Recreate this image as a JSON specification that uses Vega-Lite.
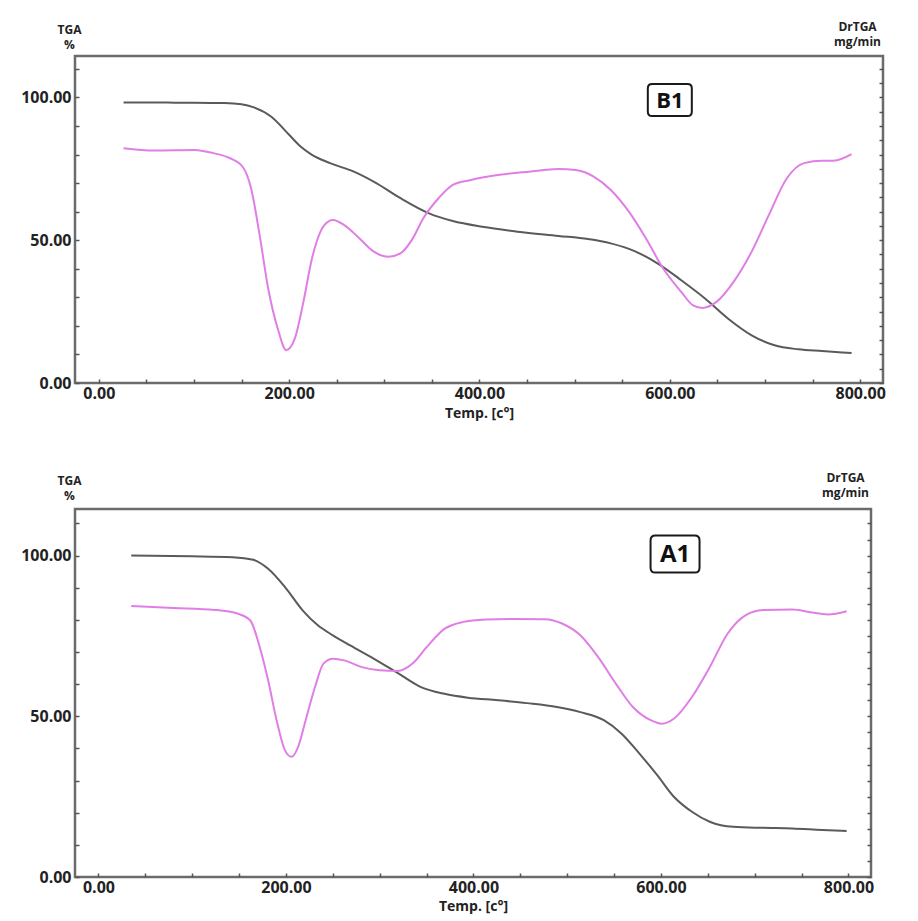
{
  "$schema": "https://vega.github.io/schema/vega-lite/v6.json",
  "background": "white",
  "padding": {"left": 19, "top": 18, "right": 5, "bottom": 0},
  "spacing": 47,
  "config": {
    "font": "Open Sans",
    "view": {"stroke": "#6b6b6b", "strokeWidth": 2.5},
    "axis": {
      "grid": false, "domain": false,
      "labelFont": "Open Sans", "labelFontWeight": "bold", "labelFontSize": 16, "labelColor": "#222",
      "titleFont": "Open Sans", "titleFontWeight": "bold", "titleColor": "#222",
      "tickColor": "#555", "tickWidth": 1.5, "labelOverlap": false, "labelFlush": false
    }
  },
  "datasets": {
    "b1_tga": [
      {"temp": 26, "value": 98.2}, {"temp": 60, "value": 98.2}, {"temp": 100, "value": 98.1}, {"temp": 132, "value": 98.0},
      {"temp": 150, "value": 97.6}, {"temp": 163, "value": 96.5}, {"temp": 181, "value": 93.3}, {"temp": 200, "value": 86.9},
      {"temp": 212, "value": 82.8}, {"temp": 224, "value": 79.9}, {"temp": 243, "value": 77.0}, {"temp": 268, "value": 74.0},
      {"temp": 292, "value": 69.9}, {"temp": 317, "value": 64.7}, {"temp": 347, "value": 59.4}, {"temp": 372, "value": 56.7},
      {"temp": 403, "value": 54.7}, {"temp": 440, "value": 53.0}, {"temp": 483, "value": 51.5}, {"temp": 514, "value": 50.4},
      {"temp": 538, "value": 48.9}, {"temp": 563, "value": 46.2}, {"temp": 587, "value": 41.9}, {"temp": 612, "value": 36.0},
      {"temp": 637, "value": 29.6}, {"temp": 661, "value": 22.6}, {"temp": 686, "value": 16.7}, {"temp": 710, "value": 13.2},
      {"temp": 735, "value": 11.8}, {"temp": 760, "value": 11.2}, {"temp": 791, "value": 10.5}
    ],
    "b1_dr": [
      {"temp": 26, "value": 82.2}, {"temp": 58, "value": 81.4}, {"temp": 101, "value": 81.6}, {"temp": 120, "value": 80.5},
      {"temp": 138, "value": 78.7}, {"temp": 151, "value": 75.8}, {"temp": 160, "value": 68.2}, {"temp": 169, "value": 51.8},
      {"temp": 178, "value": 33.1}, {"temp": 188, "value": 19.1}, {"temp": 197, "value": 11.5}, {"temp": 206, "value": 15.6},
      {"temp": 215, "value": 28.4}, {"temp": 224, "value": 43.6}, {"temp": 237, "value": 55.3}, {"temp": 246, "value": 57.1},
      {"temp": 258, "value": 55.3}, {"temp": 274, "value": 50.6}, {"temp": 289, "value": 46.0}, {"temp": 304, "value": 44.2},
      {"temp": 317, "value": 45.4}, {"temp": 329, "value": 50.1}, {"temp": 341, "value": 57.7}, {"temp": 357, "value": 64.7},
      {"temp": 372, "value": 69.4}, {"temp": 391, "value": 71.1}, {"temp": 421, "value": 72.9}, {"temp": 452, "value": 74.0},
      {"temp": 483, "value": 74.9}, {"temp": 501, "value": 74.6}, {"temp": 520, "value": 72.3}, {"temp": 538, "value": 67.6},
      {"temp": 557, "value": 60.0}, {"temp": 575, "value": 50.6}, {"temp": 593, "value": 40.1}, {"temp": 612, "value": 31.9},
      {"temp": 624, "value": 27.3}, {"temp": 634, "value": 26.3}, {"temp": 649, "value": 28.4}, {"temp": 667, "value": 35.4},
      {"temp": 686, "value": 46.0}, {"temp": 704, "value": 58.8}, {"temp": 723, "value": 71.7}, {"temp": 741, "value": 77.0},
      {"temp": 760, "value": 77.8}, {"temp": 772, "value": 77.8}, {"temp": 791, "value": 80.1}
    ],
    "a1_tga": [
      {"temp": 35, "value": 100.0}, {"temp": 99, "value": 99.8}, {"temp": 143, "value": 99.5}, {"temp": 165, "value": 98.7},
      {"temp": 181, "value": 95.9}, {"temp": 199, "value": 90.2}, {"temp": 218, "value": 82.9}, {"temp": 234, "value": 78.3},
      {"temp": 250, "value": 75.2}, {"temp": 269, "value": 72.0}, {"temp": 294, "value": 67.9}, {"temp": 319, "value": 63.5},
      {"temp": 344, "value": 59.1}, {"temp": 369, "value": 57.0}, {"temp": 394, "value": 55.8}, {"temp": 426, "value": 55.0},
      {"temp": 457, "value": 54.1}, {"temp": 489, "value": 52.9}, {"temp": 514, "value": 51.3}, {"temp": 539, "value": 48.8},
      {"temp": 558, "value": 44.6}, {"temp": 577, "value": 38.4}, {"temp": 596, "value": 31.7}, {"temp": 614, "value": 24.9},
      {"temp": 633, "value": 20.3}, {"temp": 652, "value": 17.2}, {"temp": 677, "value": 15.6}, {"temp": 709, "value": 15.3},
      {"temp": 740, "value": 15.1}, {"temp": 772, "value": 14.6}, {"temp": 798, "value": 14.3}
    ],
    "a1_dr": [
      {"temp": 35, "value": 84.3}, {"temp": 80, "value": 83.7}, {"temp": 124, "value": 83.1}, {"temp": 149, "value": 81.9},
      {"temp": 162, "value": 79.8}, {"temp": 171, "value": 72.6}, {"temp": 181, "value": 61.2}, {"temp": 190, "value": 48.8},
      {"temp": 199, "value": 39.4}, {"temp": 206, "value": 37.4}, {"temp": 213, "value": 40.5}, {"temp": 221, "value": 48.8},
      {"temp": 231, "value": 59.1}, {"temp": 240, "value": 66.4}, {"temp": 250, "value": 67.9}, {"temp": 262, "value": 67.4},
      {"temp": 281, "value": 65.3}, {"temp": 300, "value": 64.3}, {"temp": 319, "value": 64.1}, {"temp": 335, "value": 66.4},
      {"temp": 350, "value": 71.5}, {"temp": 369, "value": 77.2}, {"temp": 388, "value": 79.3}, {"temp": 413, "value": 80.1},
      {"temp": 445, "value": 80.3}, {"temp": 476, "value": 80.2}, {"temp": 495, "value": 78.8}, {"temp": 514, "value": 75.2},
      {"temp": 533, "value": 68.4}, {"temp": 552, "value": 60.1}, {"temp": 570, "value": 52.9}, {"temp": 589, "value": 48.8},
      {"temp": 601, "value": 47.7}, {"temp": 614, "value": 49.3}, {"temp": 633, "value": 56.0}, {"temp": 652, "value": 65.3},
      {"temp": 671, "value": 75.7}, {"temp": 690, "value": 81.4}, {"temp": 709, "value": 83.1}, {"temp": 740, "value": 83.2},
      {"temp": 759, "value": 82.4}, {"temp": 778, "value": 81.7}, {"temp": 798, "value": 82.7}
    ],
    "b1_lab": [{"temp": 600, "value": 99.1, "label": "B1"}],
    "a1_lab": [{"temp": 615, "value": 100.5, "label": "A1"}]
  },
  "vconcat": [
    {
      "width": 808, "height": 327,
      "resolve": {"axis": {"y": "independent"}},
      "layer": [
        {
          "data": {"name": "b1_tga"},
          "mark": {"type": "line", "color": "#5a5a5a", "strokeWidth": 2, "interpolate": "monotone"},
          "encoding": {
            "x": {"field": "temp", "type": "quantitative", "scale": {"domain": [-25, 824], "nice": false, "zero": false},
              "axis": {"values": [0,50,100,150,200,250,300,350,400,450,500,550,600,650,700,750,800],
                "labelExpr": "datum.value % 200 === 0 ? format(datum.value, '.2f') : ''",
                "tickSize": -4, "labelPadding": 6, "title": "Temp. [c°]", "titleFontSize": 14, "titlePadding": 5}},
            "y": {"field": "value", "type": "quantitative", "scale": {"domain": [0, 114.5], "nice": false, "zero": false},
              "axis": {"orient": "left", "values": [0,10,20,30,40,50,60,70,80,90,100,110],
                "labelExpr": "datum.value % 50 === 0 ? format(datum.value, '.2f') : ''",
                "tickSize": -4, "labelPadding": 8, "title": ["TGA", "%"], "titleAngle": 0, "titleAlign": "center",
                "titleBaseline": "bottom", "titleX": -6, "titleY": -20, "titleFontSize": 12, "titleLineHeight": 15}}
          }
        },
        {
          "data": {"name": "b1_dr"},
          "mark": {"type": "line", "color": "#e07ee6", "strokeWidth": 2, "interpolate": "monotone"},
          "encoding": {
            "x": {"field": "temp", "type": "quantitative"},
            "y": {"field": "value", "type": "quantitative",
              "axis": {"orient": "right", "values": [0,5,10,15,20,25,30,35,40,45,50,55,60,65,70,75,80,85,90,95,100,105,110],
                "labels": false, "tickSize": -4, "title": ["DrTGA", "mg/min"], "titleAngle": 0, "titleAlign": "center",
                "titleBaseline": "bottom", "titleX": -26, "titleY": -23, "titleFontSize": 12, "titleLineHeight": 15}}
          }
        },
        {
          "data": {"name": "b1_lab"},
          "mark": {"type": "point", "shape": "M-0.8,-0.73 L0.8,-0.73 Q1,-0.73 1,-0.53 L1,0.53 Q1,0.73 0.8,0.73 L-0.8,0.73 Q-1,0.73 -1,0.53 L-1,-0.53 Q-1,-0.73 -0.8,-0.73 Z",
            "size": 1936, "filled": true, "fill": "white", "stroke": "#1a1a1a", "strokeWidth": 2, "opacity": 1},
          "encoding": {
            "x": {"field": "temp", "type": "quantitative"},
            "y": {"field": "value", "type": "quantitative", "axis": null}
          }
        },
        {
          "data": {"name": "b1_lab"},
          "mark": {"type": "text", "font": "Open Sans", "fontSize": 22, "fontWeight": "bold", "color": "#111", "baseline": "middle", "align": "center", "dy": 1},
          "encoding": {
            "x": {"field": "temp", "type": "quantitative"},
            "y": {"field": "value", "type": "quantitative", "axis": null},
            "text": {"field": "label"}
          }
        }
      ]
    },
    {
      "width": 796, "height": 368,
      "resolve": {"axis": {"y": "independent"}},
      "layer": [
        {
          "data": {"name": "a1_tga"},
          "mark": {"type": "line", "color": "#5a5a5a", "strokeWidth": 2, "interpolate": "monotone"},
          "encoding": {
            "x": {"field": "temp", "type": "quantitative", "scale": {"domain": [-25, 824], "nice": false, "zero": false},
              "axis": {"values": [0,50,100,150,200,250,300,350,400,450,500,550,600,650,700,750,800],
                "labelExpr": "datum.value % 200 === 0 ? format(datum.value, '.2f') : ''",
                "tickSize": -4, "labelPadding": 6, "title": "Temp. [c°]", "titleFontSize": 14, "titlePadding": 4}},
            "y": {"field": "value", "type": "quantitative", "scale": {"domain": [0, 114.5], "nice": false, "zero": false},
              "axis": {"orient": "left", "values": [0,10,20,30,40,50,60,70,80,90,100,110],
                "labelExpr": "datum.value % 50 === 0 ? format(datum.value, '.2f') : ''",
                "tickSize": -4, "labelPadding": 8, "title": ["TGA", "%"], "titleAngle": 0, "titleAlign": "center",
                "titleBaseline": "bottom", "titleX": -6, "titleY": -22, "titleFontSize": 12, "titleLineHeight": 15}}
          }
        },
        {
          "data": {"name": "a1_dr"},
          "mark": {"type": "line", "color": "#e07ee6", "strokeWidth": 2, "interpolate": "monotone"},
          "encoding": {
            "x": {"field": "temp", "type": "quantitative"},
            "y": {"field": "value", "type": "quantitative",
              "axis": {"orient": "right", "values": [0,5,10,15,20,25,30,35,40,45,50,55,60,65,70,75,80,85,90,95,100,105,110],
                "labels": false, "tickSize": -4, "title": ["DrTGA", "mg/min"], "titleAngle": 0, "titleAlign": "center",
                "titleBaseline": "bottom", "titleX": -26, "titleY": -25, "titleFontSize": 12, "titleLineHeight": 15}}
          }
        },
        {
          "data": {"name": "a1_lab"},
          "mark": {"type": "point", "shape": "M-0.8,-0.76 L0.8,-0.76 Q1,-0.76 1,-0.56 L1,0.56 Q1,0.76 0.8,0.76 L-0.8,0.76 Q-1,0.76 -1,0.56 L-1,-0.56 Q-1,-0.76 -0.8,-0.76 Z",
            "size": 2400, "filled": true, "fill": "white", "stroke": "#1a1a1a", "strokeWidth": 2, "opacity": 1},
          "encoding": {
            "x": {"field": "temp", "type": "quantitative"},
            "y": {"field": "value", "type": "quantitative", "axis": null}
          }
        },
        {
          "data": {"name": "a1_lab"},
          "mark": {"type": "text", "font": "Open Sans", "fontSize": 24, "fontWeight": "bold", "color": "#111", "baseline": "middle", "align": "center", "dy": 1},
          "encoding": {
            "x": {"field": "temp", "type": "quantitative"},
            "y": {"field": "value", "type": "quantitative", "axis": null},
            "text": {"field": "label"}
          }
        }
      ]
    }
  ]
}
